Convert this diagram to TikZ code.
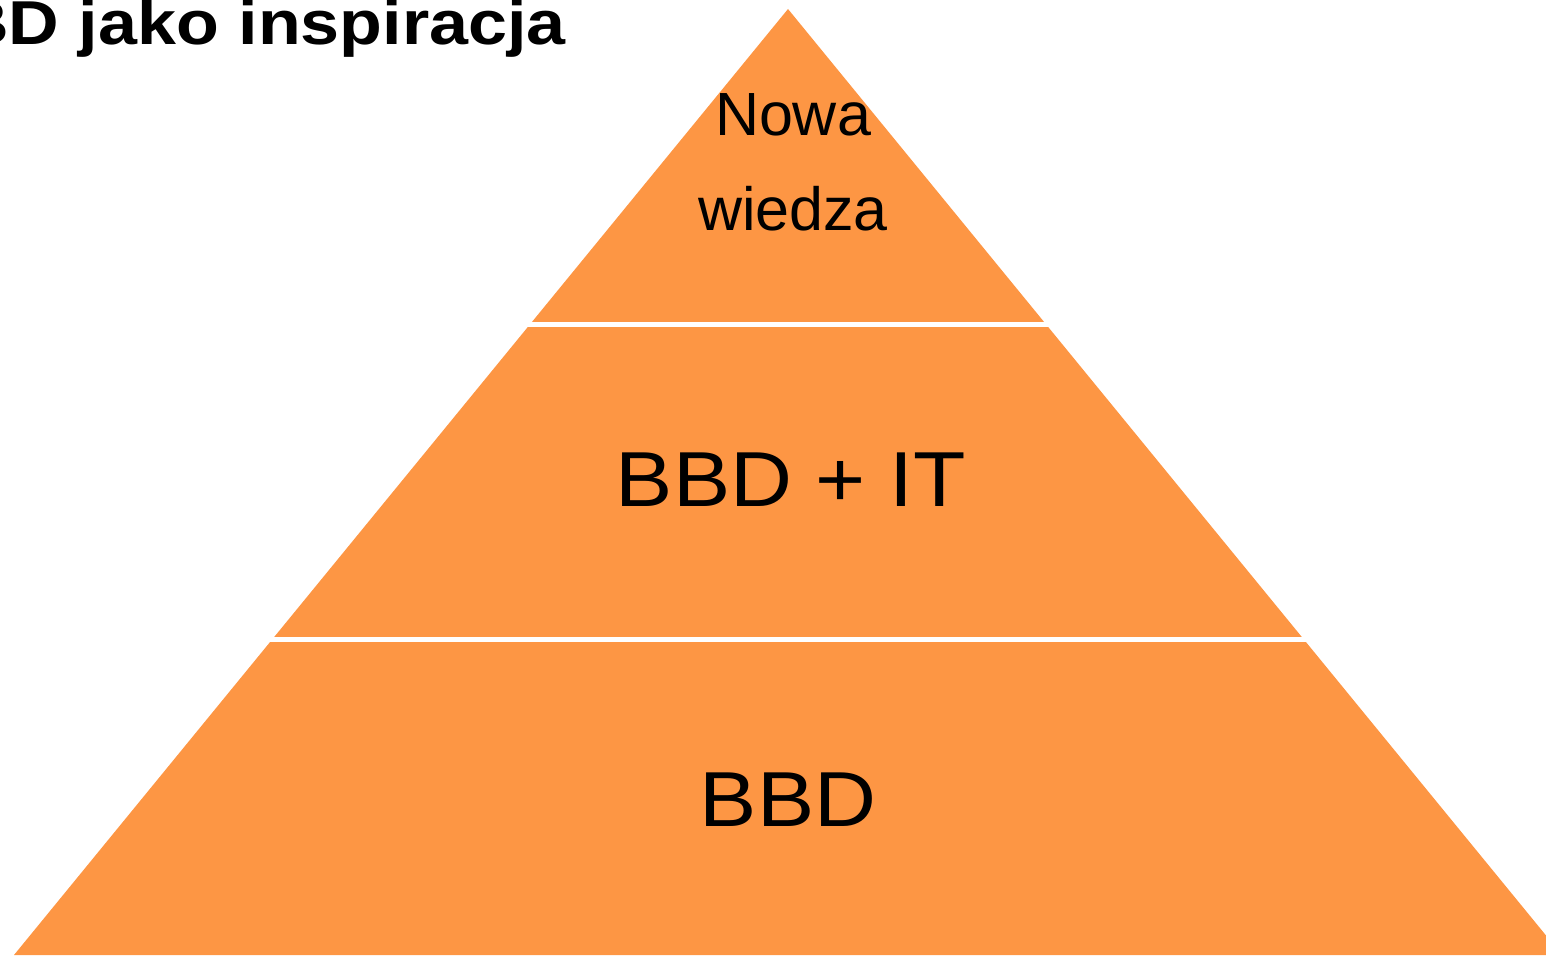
\documentclass[tikz,border=0pt]{standalone}
\usepackage{fontspec}
\setmainfont{Liberation Sans}
\usetikzlibrary{calc}
\definecolor{tierorange}{HTML}{FD9644}
\begin{document}
\begin{tikzpicture}[x=1pt, y=-1pt,
                    tier/.style = {fill=tierorange},
                    gap/.style = {draw=white, line width=5pt,
                                  shorten <=-6pt, shorten >=-6pt},
                    tierlabel/.style = {inner sep=0pt, xscale=1.1,
                                  font=\fontsize{78}{90}\selectfont}]
    \useasboundingbox (0,0) rectangle (1546,955);
    \coordinate (apex) at (788,9);
    \coordinate (bl) at (14,955);
    \coordinate (br) at (1562,955);
    % pyramid
    \fill[tier] (apex) -- (bl) -- (br) -- cycle;
    \draw[gap] ($(apex)!1/3!(bl)$) -- ($(apex)!1/3!(br)$);
    \draw[gap] ($(apex)!2/3!(bl)$) -- ($(apex)!2/3!(br)$);
    % labels
    \node[inner sep=0pt, anchor=north, align=center,
          font=\fontsize{61}{95}\selectfont] (top) at (793,93) {Nowa\\wiedza};
    \node[tierlabel, anchor=base] (middle) at (791,506) {BBD + IT};
    \node[tierlabel, anchor=base] (bottom) at (788,826) {BBD};
    \node[inner sep=0pt, anchor=base east, xscale=1.13,
          font=\bfseries\fontsize{62}{66}\selectfont] (title) at (566,45) {BBD jako inspiracja};
\end{tikzpicture}
\end{document}
